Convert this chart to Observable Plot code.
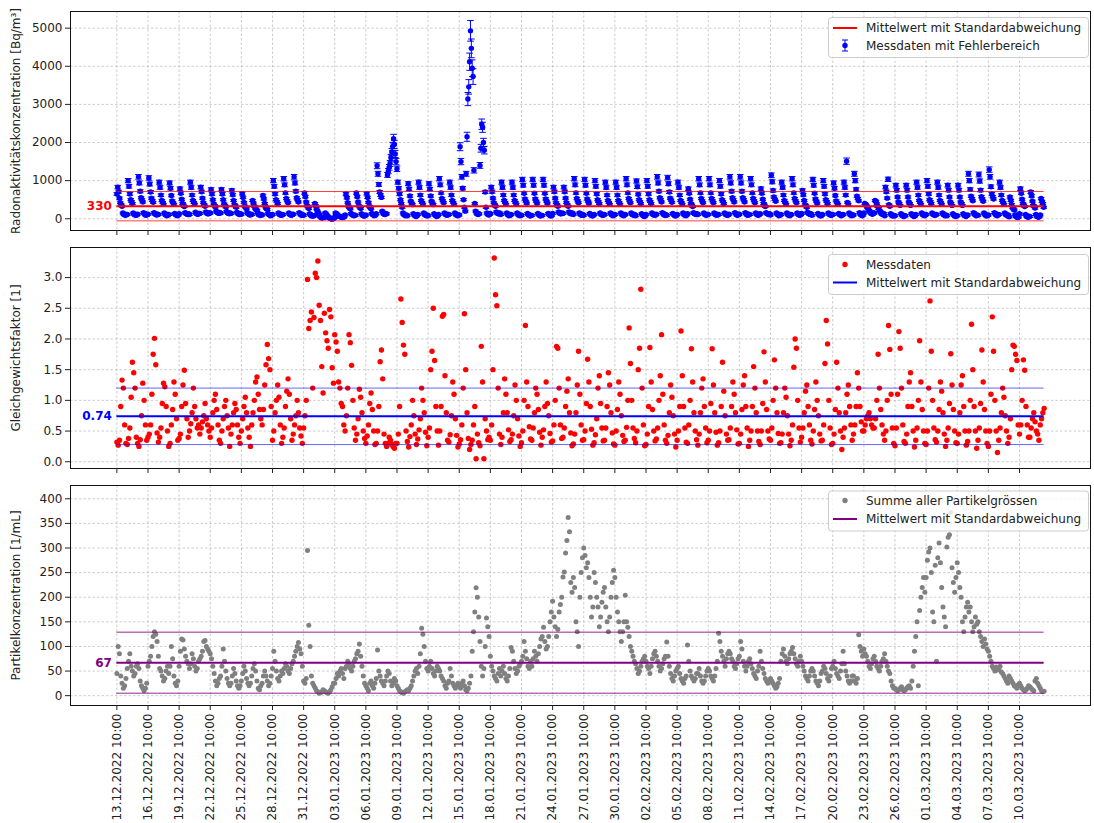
<!DOCTYPE html>
<html><head><meta charset="utf-8">
<script src="https://cdn.jsdelivr.net/npm/d3@7"></script>
<script src="https://cdn.jsdelivr.net/npm/@observablehq/plot@0.6"></script>
<style>
body{margin:0;background:#fff;}
#wrap{position:relative;width:1094px;height:823px;overflow:hidden;background:#fff;font-family:"DejaVu Sans",sans-serif;}
#wrap > svg{display:block;}
#legend{position:absolute;left:0;top:0;}
</style></head><body><div id="wrap"></div>
<script>
// ---------- data ----------
const startLabel = "13.12.2022 10:00";
const radonStepHours = 2;   // radon rows: 12 values per day
const stepHours = 3;        // factor / particle rows: 8 values per day
const tickLabels = ["13.12.2022 10:00","16.12.2022 10:00","19.12.2022 10:00","22.12.2022 10:00","25.12.2022 10:00","28.12.2022 10:00","31.12.2022 10:00","03.01.2023 10:00","06.01.2023 10:00","09.01.2023 10:00","12.01.2023 10:00","15.01.2023 10:00","18.01.2023 10:00","21.01.2023 10:00","24.01.2023 10:00","27.01.2023 10:00","30.01.2023 10:00","02.02.2023 10:00","05.02.2023 10:00","08.02.2023 10:00","11.02.2023 10:00","14.02.2023 10:00","17.02.2023 10:00","20.02.2023 10:00","23.02.2023 10:00","26.02.2023 10:00","01.03.2023 10:00","04.03.2023 10:00","07.03.2023 10:00","10.03.2023 10:00"];
const radonTicks = [0,1000,2000,3000,4000,5000];
const factorTicks = [0,0.5,1,1.5,2,2.5,3];
const particleTicks = [0,50,100,150,200,250,300,350,400];
const radonMean = 330, radonStd = 385, radonRelErr = 0.055, radonErrFloor = 25;
const factorMean = 0.74, factorStd = 0.46;
const particleMean = 67, particleStd = 62;

// Radon concentration [Bq/m3], one row per day, 2-hourly from 10:00
const radonRows = [
[650,830,710,540,420,370,330,150,120,100,90,110],
[110,1000,850,650,500,450,400,150,120,100,90,100],
[120,1100,940,720,550,500,440,160,130,100,90,110],
[120,1070,910,700,540,480,430,160,130,110,100,120],
[110,960,820,620,480,430,380,150,120,90,80,100],
[110,940,800,610,470,420,380,140,110,90,80,100],
[130,790,670,510,400,360,320,160,140,120,110,130],
[110,960,820,620,480,430,380,170,140,120,120,140],
[140,830,710,540,420,370,330,180,150,130,130,150],
[150,770,650,500,390,350,310,200,170,150,140,160],
[150,770,650,500,390,350,310,190,160,140,130,150],
[140,745,630,480,370,340,300,170,140,120,110,130],
[120,660,560,430,330,300,260,160,130,110,100,120],
[110,480,410,330,280,250,220,150,120,90,90,110],
[100,610,520,400,310,270,240,140,110,90,80,100],
[110,1000,850,650,500,450,400,150,120,100,90,100],
[110,1050,890,680,530,470,420,150,120,100,90,110],
[120,1100,940,720,550,500,440,160,130,100,90,110],
[90,680,580,440,340,310,270,130,100,80,70,80],
[80,400,340,260,200,150,110,60,40,20,25,35],
[30,150,120,90,60,40,20,5,0,-10,5,15],
[40,150,130,100,80,70,60,45,35,30,40,55],
[100,650,550,420,330,290,260,140,110,90,80,100],
[90,680,580,440,340,310,270,130,100,80,70,80],
[100,660,560,430,330,300,260,140,110,90,80,100],
[130,1390,1180,900,700,620,560,200,150,120,110,130],
[130,1150,1250,1350,1450,1600,1750,1900,2100,1950,1700,1500],
[1310,960,800,650,500,400,300,150,110,90,80,100],
[80,920,780,600,460,410,370,130,100,80,60,80],
[110,960,820,620,480,430,380,150,120,90,80,100],
[80,920,780,600,460,410,370,130,100,80,60,80],
[110,1050,890,680,530,470,420,150,120,100,90,110],
[110,960,820,620,480,430,380,150,120,90,80,100],
[100,1890,1500,1100,800,500,300,200,1180,2150,3140,3460],
[4120,4930,4470,3950,3730,1270,400,200,150,120,110,130],
[1400,1850,2480,2400,2000,1800,700,300,150,120,100,110],
[140,830,710,540,420,370,330,180,150,130,130,150],
[110,960,820,620,480,430,380,150,120,90,80,100],
[110,960,820,620,480,430,380,150,120,90,80,100],
[90,1030,880,670,520,460,410,140,110,90,70,90],
[90,1030,880,670,520,460,410,140,110,90,70,90],
[90,1030,880,670,520,460,410,140,110,90,70,90],
[140,830,710,540,420,370,330,180,150,130,130,150],
[140,830,710,540,420,370,330,180,150,130,130,150],
[110,1050,890,680,530,470,420,150,120,100,90,110],
[90,1030,880,670,520,460,410,140,110,90,70,90],
[110,1000,850,650,500,450,400,150,120,100,90,100],
[110,960,820,620,480,430,380,150,120,90,80,100],
[110,960,820,620,480,430,380,150,120,90,80,100],
[110,1050,890,680,530,470,420,150,120,100,90,110],
[80,990,840,640,500,450,400,130,100,80,60,80],
[110,1000,850,650,500,450,400,150,120,100,90,100],
[120,1100,940,720,550,500,440,160,130,100,90,110],
[90,1080,920,700,540,490,430,140,110,90,70,90],
[110,960,820,620,480,430,380,150,120,90,80,100],
[130,790,670,510,400,360,320,160,140,120,110,130],
[110,1050,890,680,530,470,420,150,120,100,90,110],
[110,1050,890,680,530,470,420,150,120,100,90,110],
[110,1000,850,650,500,450,400,150,120,100,90,100],
[120,1100,940,720,550,500,440,160,130,100,90,110],
[120,1100,940,720,550,500,440,160,130,100,90,110],
[110,1050,890,680,530,470,420,150,120,100,90,110],
[130,790,670,510,400,360,320,160,140,120,110,130],
[100,1140,970,740,570,510,460,150,120,100,80,100],
[110,960,820,620,480,430,380,150,120,90,80,100],
[110,1050,890,680,530,470,420,150,120,100,90,110],
[140,745,630,480,370,340,300,170,140,120,110,130],
[90,1030,880,670,520,460,410,140,110,90,70,90],
[110,1000,850,650,500,450,400,150,120,100,90,100],
[110,940,800,610,470,420,380,140,110,90,80,100],
[110,960,820,620,1510,430,380,150,120,90,80,100],
[100,1180,1000,770,590,530,470,160,120,100,80,100],
[150,400,380,340,300,260,220,180,150,130,120,150],
[150,480,450,390,320,270,220,180,150,120,110,140],
[80,830,710,540,1035,370,330,130,100,80,70,90],
[80,880,750,570,440,400,350,130,100,80,60,80],
[80,880,750,570,440,400,350,130,100,80,60,80],
[110,960,820,620,480,430,380,150,120,90,80,100],
[110,1000,850,650,500,450,400,150,120,100,90,100],
[110,960,820,620,480,430,380,150,120,90,80,100],
[80,880,750,570,440,400,350,130,100,80,60,80],
[80,880,750,570,440,400,350,130,100,80,60,80],
[100,1180,1000,770,590,530,470,160,120,100,80,100],
[90,1160,990,750,580,520,460,150,120,90,70,90],
[100,1290,1100,840,650,580,520,160,130,100,80,100],
[110,960,820,620,480,430,380,150,120,90,80,100],
[50,570,480,370,290,260,230,100,60,40,30,50],
[130,790,670,510,400,360,320,110,70,50,40,60],
[60,700,600,460,350,320,280,110,70,50,40,60],
[100,530,450,400,300]
];

// Equilibrium factor [1], 3-hourly from 10:00
const factorRows = [
[0.32,0.27,0.35,0.9,1.33,1.2,0.6,0.3],[0.28,0.38,0.55,1.05,1.62,1.45,1.2,0.4],[0.3,0.25,0.36,0.75,1.28,1.0,0.6,0.35],
[0.4,0.45,0.6,1.1,1.75,2.01,1.58,0.47],[0.32,0.4,0.55,0.95,1.28,1.22,0.9,0.5],[0.25,0.3,0.6,0.85,1.3,1.1,0.7,0.35],
[0.38,0.45,0.9,1.25,1.49,0.95,0.7,0.4],[0.5,0.62,0.8,1.2,0.9,0.7,0.55,0.6],[0.45,0.55,0.65,0.75,0.95,0.7,0.6,0.5],
[0.4,0.55,0.8,1.0,1.1,0.85,0.6,0.35],[0.3,0.5,0.7,0.9,1.0,0.75,0.55,0.25],[0.45,0.6,0.8,0.95,0.85,0.6,0.4,0.3],
[0.5,0.7,0.9,1.05,0.8,0.55,0.4,0.25],[0.6,0.8,1.0,1.3,1.38,1.1,0.85,0.7],[0.6,0.85,1.25,1.58,1.91,1.68,1.5,0.9],
[0.35,0.5,0.8,1.0,1.25,1.05,0.6,0.3],[0.4,0.55,0.9,1.15,1.35,1.1,0.7,0.35],[0.45,0.6,0.75,1.0,0.8,0.55,0.42,0.3],
[0.55,0.75,1.0,2.97,2.17,2.3,2.44,1.2],[2.35,3.07,3.0,3.27,2.55,2.3,1.55,1.12],[2.42,2.1,1.97,1.85,2.48,2.36,1.53,1.28],
[2.07,1.95,1.8,1.3,1.2,0.95,0.9,0.6],[0.5,0.75,1.2,2.07,1.94,1.57,1.0,0.55],[0.35,0.45,0.7,1.18,1.05,0.8,0.5,0.38],
[0.3,0.42,0.6,0.95,1.12,0.85,0.5,0.28],[0.3,0.5,0.9,1.63,1.82,1.35,0.45,0.3],[0.25,0.3,0.4,0.35,0.28,0.25,0.22,0.3],
[0.3,0.45,0.9,2.65,2.27,1.9,1.75,0.5],[0.33,0.24,0.41,0.6,1.0,0.75,0.45,0.28],[0.37,0.52,0.7,1.2,1.0,0.8,0.48,0.26],
[0.4,0.55,1.5,1.8,2.5,1.65,0.9,0.5],[0.27,0.5,0.9,2.37,2.4,1.4,0.8,0.35],[0.32,0.44,0.75,1.3,1.1,0.7,0.43,0.24],
[0.29,0.36,0.6,1.2,2.41,1.5,0.8,0.38],[0.2,0.28,0.35,0.6,0.9,0.05,0.45,0.31],[0.26,1.88,1.3,0.05,0.7,0.5,0.36,0.4],
[0.35,0.6,1.5,3.32,2.72,2.54,1.2,0.45],[0.28,0.4,0.8,1.35,1.1,0.8,0.52,0.33],[0.36,0.45,0.75,1.25,1.0,0.7,0.42,0.25],
[0.31,0.5,1.0,2.22,1.3,0.9,0.57,0.37],[0.35,0.55,0.8,1.2,1.1,0.85,0.48,0.27],[0.4,0.52,0.9,1.3,0.95,0.75,0.46,0.32],
[0.34,0.6,1.0,1.88,1.85,1.2,0.6,0.38],[0.4,0.55,0.9,1.15,1.35,0.8,0.47,0.26],[0.29,0.45,0.8,1.25,1.8,1.1,0.6,0.35],
[0.36,0.5,0.95,1.67,1.3,0.9,0.53,0.27],[0.31,0.44,0.7,1.2,1.4,0.95,0.55,0.34],[0.35,0.55,0.9,1.45,1.25,0.8,0.47,0.29],
[0.27,0.5,0.85,1.3,1.1,0.75,0.43,0.33],[0.35,0.56,1.0,2.18,1.6,1.0,0.55,0.38],[0.31,0.5,1.5,1.85,2.81,1.2,0.6,0.26],
[0.28,0.45,0.9,1.86,1.3,0.85,0.5,0.34],[0.37,0.55,1.0,1.4,2.07,1.1,0.6,0.35],[0.3,0.43,0.8,1.25,1.05,0.75,0.45,0.24],
[0.35,0.5,0.9,2.13,1.4,0.9,0.55,0.32],[0.3,0.6,1.0,1.84,1.3,0.8,0.5,0.36],[0.27,0.45,0.8,1.2,1.35,0.9,0.55,0.31],
[0.35,0.5,0.95,1.84,1.25,0.8,0.48,0.27],[0.31,0.5,0.9,1.62,1.15,0.75,0.45,0.35],[0.36,0.55,0.9,1.3,1.1,0.8,0.52,0.29],
[0.3,0.45,0.85,1.25,1.4,0.9,0.55,0.25],[0.35,0.5,0.9,1.55,1.2,0.8,0.5,0.33],[0.28,0.5,0.95,1.79,1.3,0.85,0.5,0.37],
[0.35,0.55,1.0,1.66,1.2,0.8,0.46,0.3],[0.31,0.45,0.8,1.2,1.05,0.75,0.45,0.26],[0.35,0.6,1.54,2.0,1.85,1.0,0.55,0.32],
[0.4,0.55,0.8,1.15,1.25,0.9,0.6,0.35],[0.29,0.5,0.85,1.3,1.0,0.75,0.45,0.34],[0.35,0.6,1.6,2.3,1.92,1.0,0.55,0.28],
[0.3,0.45,0.85,1.62,1.2,0.8,0.5,0.2],[0.4,0.55,0.8,1.1,1.25,0.9,0.6,0.35],[0.45,0.6,0.9,1.45,1.2,0.9,0.65,0.5],
[0.5,0.6,0.7,0.75,0.8,0.7,0.6,0.55],[0.55,0.7,1.0,1.75,1.2,0.85,0.6,0.45],[0.35,0.5,1.0,2.22,1.83,1.1,0.55,0.3],
[0.26,0.55,1.1,2.12,1.85,1.2,0.6,0.33],[0.3,0.45,0.9,1.3,1.45,0.9,0.5,0.24],[0.35,0.55,1.0,1.97,1.3,0.85,0.5,0.3],
[0.28,0.5,1.2,2.62,1.8,1.0,0.55,0.36],[0.32,0.5,0.85,1.3,1.15,0.8,0.45,0.25],[0.35,0.55,0.95,1.76,1.25,0.85,0.5,0.31],
[0.3,0.45,0.8,1.25,1.4,0.9,0.5,0.27],[0.33,0.5,1.0,2.24,1.5,0.9,0.5,0.22],[0.35,0.55,0.95,1.82,1.3,0.85,0.5,0.3],
[0.25,0.5,1.1,2.36,1.8,1.0,0.5,0.15],[0.35,0.55,0.8,1.2,1.05,0.75,0.5,0.3],[0.4,0.7,1.5,1.9,1.88,1.75,1.65,0.6],
[0.45,0.6,1.0,1.66,1.49,0.9,0.6,0.4],[0.4,0.55,0.7,0.8,0.65,0.5,0.45,0.35],[0.6,0.7,0.8,0.87]
];

// Particle concentration [1/mL], 3-hourly from 10:00
const particleRows = [
[45,100,85,40,25,15,20,35],[55,70,85,60,50,40,45,60],[65,55,30,20,15,10,15,25],
[60,70,80,100,120,130,125,110],[80,55,50,40,30,35,50,60],[45,60,100,75,40,25,20,30],
[60,90,115,113,95,80,70,65],[55,65,85,75,60,50,55,70],[75,80,90,110,112,100,95,90],
[85,75,60,45,30,20,25,35],[40,60,95,70,50,35,25,20],[25,40,55,45,30,20,15,20],
[30,45,60,50,35,25,20,25],[40,55,65,50,30,15,12,20],[25,40,50,40,30,20,25,40],
[55,90,70,50,35,30,40,50],[45,55,65,60,50,45,55,65],[70,80,90,100,108,95,85,60],
[30,25,35,295,143,100,40,25],[20,15,10,8,5,6,8,12],[10,8,6,5,8,12,18,25],
[25,35,45,40,50,55,45,35],[55,60,70,65,55,50,60,70],[75,85,90,105,80,60,40,25],
[20,15,10,25,30,20,15,25],[35,93,50,40,30,25,20,30],[40,50,45,30,20,25,35,30],
[20,15,10,8,6,5,8,10],[12,10,15,20,30,40,50,55],[45,60,85,137,125,100,70,55],
[50,60,70,55,45,40,50,60],[55,50,40,35,30,20,15,25],[30,55,40,25,20,15,20,25],
[20,15,25,30,20,12,10,15],[25,40,90,130,170,219,200,160],[110,60,40,55,100,158,140,120],
[80,60,50,40,35,30,45,55],[40,50,60,45,35,30,40,55],[98,90,70,55,45,50,60,65],
[70,80,110,90,75,60,55,70],[60,75,90,80,70,85,100,115],[120,139,110,95,100,120,150,170],
[192,160,140,120,135,170,185,200],[241,251,290,315,362,333,230,210],[240,220,150,130,100,200,250,280],
[300,285,260,270,240,200,160,180],[250,230,200,180,140,160,190,210],[220,180,150,130,160,200,230,255],
[240,200,170,150,130,110,130,150],[204,150,139,120,100,90,80,70],[65,55,45,50,60,70,75,80],
[70,60,55,45,60,75,85,90],[80,70,60,50,55,65,75,80],[109,80,60,45,35,30,40,50],
[55,60,45,35,30,25,35,40],[103,70,50,40,35,30,35,45],[45,55,40,30,25,30,40,50],
[55,50,40,35,30,40,55,70],[127,110,90,80,70,60,75,85],[90,85,75,70,60,55,65,75],
[80,110,95,70,60,50,60,70],[75,65,55,45,40,35,50,60],[90,70,55,45,35,30,25,30],
[35,30,25,20,15,18,25,35],[70,85,95,80,70,65,75,85],[90,98,85,75,65,60,70,80],
[70,60,50,40,35,30,40,50],[55,50,40,30,25,20,30,45],[50,60,55,45,35,30,40,55],
[60,70,55,45,40,35,50,65],[90,65,50,40,30,25,30,40],[40,30,25,35,124,100,90,80],
[95,85,80,70,60,55,65,75],[80,70,60,55,50,60,70,75],[85,70,60,50,45,30,20,15],
[15,12,10,12,15,18,12,10],[12,15,18,20,15,30,60,90],[120,150,20,173,200,220,240,210],
[240,275,292,300,250,170,150,265],[70,280,310,270,220,180,160,140],[302,322,327,372,260,230,210,240],
[270,250,220,200,150,130,160,180],[190,170,180,150,130,140,160,145],[150,130,120,110,100,115,105,95],
[90,80,70,60,55,50,58,52],[55,60,48,45,40,35,30,25],[40,35,30,25,20,18,15,22],
[25,20,15,12,10,12,15,20],[18,15,12,10,30,35,25,20],[15,10,8,9]
];

// ---------- helpers ----------
function parseLabel(s){
  const [d,m,y] = s.slice(0,10).split(".").map(Number);
  const [hh,mm] = s.slice(11).split(":").map(Number);
  return new Date(Date.UTC(y,m-1,d,hh,mm));
}
const t0 = parseLabel(startLabel);
const timeAt = (i, h) => new Date(t0.getTime() + i*h*3600e3);
const tickDates = tickLabels.map(parseLabel);
const tickText = d => { const k = tickDates.findIndex(t => +t === +d); return k < 0 ? "" : tickLabels[k]; };

const radon = radonRows.flat().map((v,i) => ({t: timeAt(i, radonStepHours), v, e: Math.max(radonErrFloor, Math.abs(v)*radonRelErr)}));
const factor = factorRows.flat().map((v,i) => ({t: timeAt(i, stepHours), v}));
const particle = particleRows.flat().map((v,i) => ({t: timeAt(i, stepHours), v}));
const tStart = t0;
const tEnd = new Date(Math.max(+radon[radon.length-1].t, +factor[factor.length-1].t, +particle[particle.length-1].t));
const span = tEnd - tStart;
const xDomain = [new Date(+tStart - 0.05*span), new Date(+tEnd + 0.05*span)];

const W = 1094;
const FONT = "DejaVu Sans, sans-serif";
const FS = 12;
const baseStyle = {fontFamily: FONT, fontSize: FS + "px", color: "#222", background: "white", overflow: "visible"};
const gridStyle = {stroke: "#b0b0b0", strokeOpacity: 0.8, strokeWidth: 0.8, strokeDasharray: "2.5,2"};
const capSymbol = {draw(ctx, size){ const w = Math.sqrt(size/Math.PI); ctx.moveTo(-w,0); ctx.lineTo(w,0); }};

function meanMarks(mean, std, color, label, stdOpacity){
  return [
    Plot.ruleY([mean+std, mean-std], {x1: () => tStart, x2: () => tEnd, stroke: color, strokeWidth: 1, strokeOpacity: stdOpacity}),
    Plot.ruleY([mean], {x1: () => tStart, x2: () => tEnd, stroke: color, strokeWidth: 2}),
    Plot.text([mean], {x: () => tStart, y: d => d, text: () => label, dx: -5, textAnchor: "end", fill: color, fontWeight: "bold", fontSize: FS})
  ];
}
function yAxis(ticks, fmt, label){
  return Plot.axisY(ticks, {tickSize: 5, tickPadding: 3, tickFormat: fmt, label, labelAnchor: "center", labelOffset: 59, labelArrow: "none", fontSize: FS});
}

const wrap = document.getElementById("wrap");

// ---------- panel 1: radon ----------
wrap.appendChild(Plot.plot({
  width: W, height: 238, marginLeft: 70, marginRight: 4, marginTop: 11, marginBottom: 8,
  style: baseStyle,
  x: {type: "utc", domain: xDomain, label: null},
  y: {domain: [-308, 5437]},
  marks: [
    Plot.gridX(tickDates, gridStyle),
    Plot.gridY(radonTicks, gridStyle),
    Plot.link(radon, {x1: "t", x2: "t", y1: d => d.v - d.e, y2: d => d.v + d.e, stroke: "blue", strokeWidth: 1}),
    Plot.dot(radon, {x: "t", y: d => d.v + d.e, symbol: capSymbol, r: 3.3, stroke: "blue", fill: "none", strokeWidth: 1}),
    Plot.dot(radon, {x: "t", y: d => d.v - d.e, symbol: capSymbol, r: 3.3, stroke: "blue", fill: "none", strokeWidth: 1}),
    Plot.dot(radon, {x: "t", y: "v", r: 2.7, fill: "blue"}),
    ...meanMarks(radonMean, radonStd, "red", String(radonMean), 0.75),
    Plot.frame({stroke: "#111", strokeWidth: 1}),
    yAxis(radonTicks, d => String(d), "Radonaktivitätskonzentration [Bq/m³]"),
    Plot.axisX(tickDates, {tickSize: 5, tickFormat: () => "", label: null})
  ]
}));

// ---------- panel 2: equilibrium factor ----------
wrap.appendChild(Plot.plot({
  width: W, height: 239, marginLeft: 70, marginRight: 4, marginTop: 9, marginBottom: 9,
  style: baseStyle,
  x: {type: "utc", domain: xDomain, label: null},
  y: {domain: [-0.11, 3.49]},
  marks: [
    Plot.gridX(tickDates, gridStyle),
    Plot.gridY(factorTicks, gridStyle),
    Plot.dot(factor, {x: "t", y: "v", r: 2.7, fill: "red"}),
    ...meanMarks(factorMean, factorStd, "blue", factorMean.toFixed(2), 0.6),
    Plot.frame({stroke: "#111", strokeWidth: 1}),
    yAxis(factorTicks, d3.format(".1f"), "Gleichgewichtsfaktor [1]"),
    Plot.axisX(tickDates, {tickSize: 5, tickFormat: () => "", label: null})
  ]
}));

// ---------- panel 3: particles ----------
wrap.appendChild(Plot.plot({
  width: W, height: 346, marginLeft: 70, marginRight: 4, marginTop: 8, marginBottom: 118,
  style: baseStyle,
  x: {type: "utc", domain: xDomain, label: null},
  y: {domain: [-20, 427]},
  marks: [
    Plot.gridX(tickDates, gridStyle),
    Plot.gridY(particleTicks, gridStyle),
    Plot.dot(particle, {x: "t", y: "v", r: 2.5, fill: "gray"}),
    ...meanMarks(particleMean, particleStd, "purple", String(particleMean), 0.85),
    Plot.frame({stroke: "#111", strokeWidth: 1}),
    yAxis(particleTicks, d => String(d), "Partikelkonzentration [1/mL]"),
    Plot.axisX(tickDates, {tickSize: 5, tickPadding: 3, tickRotate: -90, tickFormat: tickText, label: null, fontSize: FS})
  ]
}));

// ---------- legends (overlay) ----------
const ns = "http://www.w3.org/2000/svg";
const lg = document.createElementNS(ns, "svg");
lg.setAttribute("id", "legend"); lg.setAttribute("width", W); lg.setAttribute("height", 823);
function el(tag, attrs, text){ const e = document.createElementNS(ns, tag); for (const k in attrs) e.setAttribute(k, attrs[k]); if (text != null) e.textContent = text; lg.appendChild(e); return e; }
function legendBox(y){ el("rect", {x: 828.5, y: y, width: 260, height: 40, rx: 3, fill: "white", "fill-opacity": 0.8, stroke: "#cccccc"}); }
function legendText(y, s){ el("text", {x: 866, y: y, "dominant-baseline": "central", "font-family": FONT, "font-size": FS + "px", fill: "#222"}, s); }
function legendLine(y, c){ el("line", {x1: 833, x2: 857, y1: y, y2: y, stroke: c, "stroke-width": 2}); }
function legendDot(y, c){ el("circle", {cx: 845, cy: y, r: 2.7, fill: c}); }
legendBox(17.5);
legendLine(28, "red"); legendText(28, "Mittelwert mit Standardabweichung");
el("line", {x1: 845, x2: 845, y1: 40, y2: 51, stroke: "blue", "stroke-width": 1});
el("line", {x1: 842, x2: 848, y1: 40, y2: 40, stroke: "blue", "stroke-width": 1});
el("line", {x1: 842, x2: 848, y1: 51, y2: 51, stroke: "blue", "stroke-width": 1});
legendDot(45.5, "blue"); legendText(45.5, "Messdaten mit Fehlerbereich");
legendBox(254.5);
legendDot(264.5, "red"); legendText(264.5, "Messdaten");
legendLine(282.5, "blue"); legendText(282.5, "Mittelwert mit Standardabweichung");
legendBox(491);
legendDot(500.5, "gray"); legendText(500.5, "Summe aller Partikelgrössen");
legendLine(519, "purple"); legendText(519, "Mittelwert mit Standardabweichung");
wrap.appendChild(lg);
</script></body></html>
